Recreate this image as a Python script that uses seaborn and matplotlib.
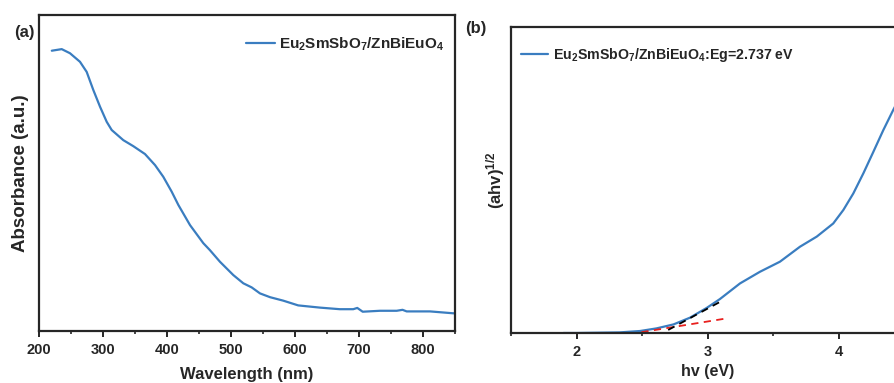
import numpy as np
import pandas as pd
import matplotlib
matplotlib.use("Agg")
import matplotlib.pyplot as plt
from matplotlib.ticker import MultipleLocator, NullLocator
import seaborn as sns

# ---- data ----
wavelength = [220, 235.5, 248.4, 264, 274.5, 284.8, 295.3, 305.8, 313.6, 331.7, 347.3,
              365.6, 381.3, 394.2, 407.3, 417.7, 436, 456.7, 467, 482.8, 503.6, 519.2,
              532.3, 545.3, 561, 581.7, 605, 639, 670, 691, 697.3, 705.8, 732.8, 758.9,
              768, 774.5, 811, 847.4, 850]
absorbance = [0.887, 0.892, 0.879, 0.852, 0.820, 0.763, 0.710, 0.662, 0.636, 0.604,
              0.585, 0.560, 0.525, 0.488, 0.441, 0.399, 0.335, 0.278, 0.256, 0.219,
              0.177, 0.151, 0.138, 0.119, 0.107, 0.096, 0.081, 0.074, 0.069, 0.069,
              0.073, 0.061, 0.064, 0.064, 0.067, 0.062, 0.062, 0.056, 0.056]

energy = [1.9, 2.0, 2.33, 2.485, 2.61, 2.74, 2.866, 2.994, 3.095, 3.248, 3.40, 3.553,
          3.706, 3.834, 3.96, 4.037, 4.113, 4.19, 4.266, 4.342, 4.418, 4.45]
tauc = [0.0, 0.0, 0.002, 0.0065, 0.015, 0.028, 0.050, 0.082, 0.111, 0.162, 0.200,
        0.233, 0.282, 0.315, 0.358, 0.402, 0.456, 0.522, 0.592, 0.663, 0.729, 0.755]

baseline_x = [2.40, 3.15]
baseline_y = [-0.004, 0.048]
tangent_x = [2.70, 3.11]
tangent_y = [0.010, 0.105]

label_a = "Eu$_2$SmSbO$_7$/ZnBiEuO$_4$"
label_b = "Eu$_2$SmSbO$_7$/ZnBiEuO$_4$:Eg=2.737 eV"

# ---- style ----
sns.set_style("ticks")
plt.rcParams['font.family'] = ['Liberation Sans', 'DejaVu Sans']
plt.rcParams['font.weight'] = 'bold'
plt.rcParams['mathtext.fontset'] = 'custom'
plt.rcParams['mathtext.rm'] = 'Liberation Sans:bold'
plt.rcParams['mathtext.bf'] = 'Liberation Sans:bold'
plt.rcParams['mathtext.it'] = 'Liberation Sans:bold'
plt.rcParams['mathtext.default'] = 'bf'

blue = "#3a7dc0"

fig = plt.figure(figsize=(8.94, 3.83), dpi=100)
ax1 = fig.add_axes([39/894, 52/383, 416/894, 316/383])
ax2 = fig.add_axes([511/894, 50/383, 393/894, 306/383])

df_a = pd.DataFrame({"Wavelength": wavelength, "Absorbance": absorbance})
df_b = pd.DataFrame({"hv": energy, "tauc": tauc})

sns.lineplot(data=df_a, x="Wavelength", y="Absorbance", ax=ax1, color=blue,
             linewidth=1.6, label=label_a, sort=False)
sns.lineplot(data=df_b, x="hv", y="tauc", ax=ax2, color=blue,
             linewidth=1.6, label=label_b, sort=False)
ax2.plot(baseline_x, baseline_y, color="#e8201e", linestyle=(0, (4, 3)), linewidth=1.3)
ax2.plot(tangent_x, tangent_y, color="black", linestyle=(0, (4, 3)), linewidth=1.3)

for ax in (ax1, ax2):
    for s in ax.spines.values():
        s.set_linewidth(1.6)
        s.set_visible(True)
    ax.yaxis.set_major_locator(NullLocator())
    ax.tick_params(axis='x', which='major', direction='out', length=4, width=1.4,
                   labelsize=10.5, pad=5)
    ax.tick_params(axis='x', which='minor', direction='out', length=2.5, width=1.2)
    for t in ax.get_xticklabels():
        t.set_fontweight('bold')

ax1.set_xlim(200, 850)
ax1.set_ylim(0, 1)
ax1.xaxis.set_major_locator(MultipleLocator(100))
ax1.xaxis.set_minor_locator(MultipleLocator(50))
ax1.set_xlabel("Wavelength (nm)", fontsize=12, fontweight='bold', labelpad=6.5)
ax1.set_ylabel("Absorbance (a.u.)", fontsize=13.5, fontweight='bold', labelpad=7)

ax2.set_xlim(1.5, 4.5)
ax2.set_ylim(0, 1)
ax2.xaxis.set_major_locator(MultipleLocator(1))
ax2.xaxis.set_minor_locator(MultipleLocator(0.5))
ax2.set_xlabel("hv (eV)", fontsize=11.5, fontweight='bold', labelpad=3)
ax2.set_ylabel("(ahv)$^{1/2}$", fontsize=12, fontweight='bold', labelpad=3)

leg1 = ax1.legend(loc='upper right', frameon=False, fontsize=11, handlelength=1.9,
                  handletextpad=0.25, borderaxespad=0.3, bbox_to_anchor=(1.0, 0.97))
leg2 = ax2.legend(loc='upper left', frameon=False, fontsize=10.2, handlelength=1.9,
                  handletextpad=0.35, borderaxespad=0.3, bbox_to_anchor=(0.0, 0.97))
for leg in (leg1, leg2):
    for t in leg.get_texts():
        t.set_fontweight('bold')

fig.text(14/894, 1 - 32/383, "(a)", fontsize=12, fontweight='bold', va='center')
fig.text(465/894, 1 - 28/383, "(b)", fontsize=12, fontweight='bold', va='center')

fig.savefig("out.png", dpi=100)
